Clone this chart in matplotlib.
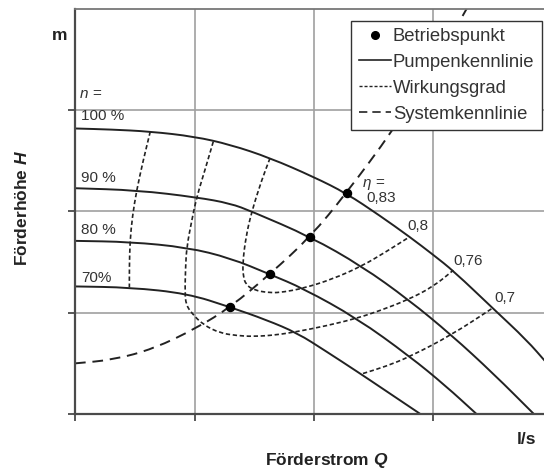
import matplotlib
matplotlib.use('Agg')
import matplotlib.pyplot as plt
from matplotlib.lines import Line2D
from matplotlib.path import Path
from matplotlib.patches import PathPatch

INK, SPINE, GRID = '#222222', '#4a4a4a', '#a0a0a0'
plt.rcParams.update({
    'font.family': ['Liberation Sans', 'DejaVu Sans'],
    'mathtext.fontset': 'custom',
    'mathtext.it': 'Liberation Sans:italic:bold',
    'text.color': INK,
})

# Pumpenkennlinien bei n = 100/90/80/70 %  (Q, H in Rastereinheiten)
n100_q = [0, 0.3, 0.63, 1.0, 1.3, 1.63, 2.0, 2.27, 2.55, 2.8, 3.0, 3.17, 3.5, 3.78, 3.95]
n100_h = [2.82, 2.81, 2.79, 2.74, 2.66, 2.53, 2.34, 2.18, 1.96, 1.75, 1.57, 1.41, 1.04, 0.73, 0.50]
n90_q = [0, 0.52, 1.02, 1.3, 1.48, 1.97, 2.4, 2.79, 3.15, 3.5, 3.84]
n90_h = [2.23, 2.21, 2.14, 2.08, 2.0, 1.75, 1.46, 1.13, 0.78, 0.40, 0.0]
n80_q = [0, 0.46, 0.94, 1.3, 1.63, 1.91, 2.36, 2.8, 3.1, 3.36]
n80_h = [1.71, 1.70, 1.645, 1.54, 1.38, 1.24, 0.945, 0.57, 0.28, 0.0]
n70_q = [0, 0.46, 0.94, 1.3, 1.6, 1.86, 2.1, 2.36, 2.6, 2.89]
n70_h = [1.26, 1.25, 1.19, 1.055, 0.93, 0.80, 0.62, 0.42, 0.23, 0.0]
pump_labels = ['100 %', '90 %', '80 %', '70%']

# Wirkungsgrad-Isolinien
eta70_left_q = [0.63, 0.57, 0.516, 0.48, 0.46, 0.455, 0.455]
eta70_left_h = [2.79, 2.5, 2.21, 1.95, 1.70, 1.45, 1.25]
eta70_right_q = [2.41, 2.6, 2.8, 3.15, 3.5]
eta70_right_h = [0.40, 0.47, 0.565, 0.78, 1.05]
eta76_q = [1.157, 1.09, 1.018, 0.975, 0.935, 0.925, 0.92, 0.93, 0.976, 1.074, 1.213,
           1.35, 1.49, 1.68, 1.855, 2.1, 2.357, 2.55, 2.79, 3.0, 3.166]
eta76_h = [2.69, 2.42, 2.14, 1.9, 1.647, 1.45, 1.19, 1.08, 0.995, 0.88, 0.80,
           0.775, 0.765, 0.78, 0.813, 0.87, 0.945, 1.02, 1.13, 1.26, 1.42]
eta80_q = [1.632, 1.562, 1.479, 1.43, 1.403, 1.408, 1.43, 1.492, 1.632, 1.75, 1.911,
           2.15, 2.399, 2.6, 2.803]
eta80_h = [2.527, 2.31, 2.0, 1.75, 1.49, 1.357, 1.28, 1.225, 1.195, 1.205, 1.242,
           1.33, 1.46, 1.6, 1.752]
eta_labels = ['0,83', '0,8', '0,76', '0,7']

# Systemkennlinie und Betriebspunkte
sys_q = [0, 0.32, 0.66, 1.02, 1.30, 1.63, 1.97, 2.27, 2.66, 3.0, 3.3]
sys_h = [0.50, 0.535, 0.645, 0.85, 1.055, 1.38, 1.75, 2.18, 2.80, 3.42, 4.05]
op_q = [1.297, 1.632, 1.967, 2.274]
op_h = [1.055, 1.383, 1.752, 2.181]


def smooth_path(q, h):
    """quadratic bezier path through the midpoints, using the points as control points"""
    pts = list(zip(q, h))
    verts, codes = [pts[0]], [Path.MOVETO]
    for i in range(1, len(pts) - 1):
        mid = ((pts[i][0] + pts[i + 1][0]) / 2, (pts[i][1] + pts[i + 1][1]) / 2)
        if i == 1:
            verts.append(((pts[0][0] + pts[1][0]) / 2, (pts[0][1] + pts[1][1]) / 2))
            codes.append(Path.LINETO)
        verts += [pts[i], mid]
        codes += [Path.CURVE3, Path.CURVE3]
    verts.append(pts[-1])
    codes.append(Path.LINETO)
    return Path(verts, codes)


def draw_curve(ax, q, h, **kw):
    ax.add_patch(PathPatch(smooth_path(q, h), fill=False, capstyle='butt', **kw))


W, H = 544, 468
fig = plt.figure(figsize=(W / 100, H / 100), dpi=100)
ax = fig.add_axes([75 / W, 54 / H, (W - 75) / W, 405 / H])
ax.set_xlim(0, (W - 75) / 119.5)
ax.set_ylim(0, 4)
ax.set_xticks([0, 1, 2, 3])
ax.set_yticks([0, 1, 2, 3])
ax.set_xticklabels([])
ax.set_yticklabels([])
ax.grid(True, color=GRID, linewidth=1.2)
ax.set_axisbelow(True)
ax.tick_params(length=5, width=1.3, color=SPINE, direction='out')
for side in ('left', 'bottom'):
    ax.spines[side].set_color(SPINE)
    ax.spines[side].set_linewidth(1.6)
ax.spines['top'].set_color('#777777')
ax.spines['top'].set_linewidth(1.3)
ax.spines['right'].set_visible(False)

for q, h in [(n100_q, n100_h), (n90_q, n90_h), (n80_q, n80_h), (n70_q, n70_h)]:
    draw_curve(ax, q, h, edgecolor=INK, linewidth=1.4)

for q, h in [(eta70_left_q, eta70_left_h), (eta70_right_q, eta70_right_h),
             (eta76_q, eta76_h), (eta80_q, eta80_h)]:
    draw_curve(ax, q, h, edgecolor=INK, linewidth=1.2, linestyle=(0, (2.6, 1.6)))

draw_curve(ax, sys_q, sys_h, edgecolor=INK, linewidth=1.4, linestyle=(0, (5.5, 3.5)))
ax.plot(op_q, op_h, 'o', color='black', markersize=5.8, zorder=5)

# Drehzahl-Beschriftung
ax.text(0.042, 3.12, 'n =', fontsize=11, style='italic', color='#333333')
for lbl, y in zip(pump_labels, [2.905, 2.29, 1.78, 1.307]):
    ax.text(0.05, y, lbl, fontsize=11, color='#333333')

# Wirkungsgrad-Beschriftung
ax.text(2.41, 2.243, 'η =', fontsize=11, style='italic', color='#333333')
for lbl, (x, y) in zip(eta_labels, [(2.435, 2.095), (2.778, 1.818), (3.163, 1.472), (3.506, 1.107)]):
    ax.text(x, y, lbl, fontsize=11, color='#333333')

handles = [
    Line2D([], [], marker='o', color='black', linestyle='none', markersize=5.5),
    Line2D([], [], color=INK, linewidth=1.2),
    Line2D([], [], color=INK, linewidth=1.0, linestyle=(0, (2.2, 1.4))),
    Line2D([], [], color=INK, linewidth=1.2, linestyle=(0, (5, 3))),
]
leg = fig.legend(handles, ['Betriebspunkt', 'Pumpenkennlinie', 'Wirkungsgrad', 'Systemkennlinie'],
                 loc='upper right', bbox_to_anchor=(541.7 / W, 1 - 20.7 / H),
                 fontsize=13.3, frameon=True, fancybox=False, borderpad=0.4,
                 handlelength=1.75, handletextpad=0.1, labelspacing=0.48,
                 borderaxespad=0)
leg.get_frame().set_edgecolor('#333333')
leg.get_frame().set_linewidth(1.0)
leg.get_frame().set_facecolor('white')
leg.get_frame().set_alpha(1)
for t in leg.get_texts():
    t.set_color('#333333')

# Achsenbeschriftungen
lab_kw = dict(fontsize=12.5, fontweight='bold', color=INK, ha='center', va='center')
fig.text(60 / W, 1 - 36 / H, 'm', **lab_kw)
fig.text(527 / W, 1 - 439 / H, 'l/s', **lab_kw)
fig.text(326.7 / W, 1 - 460 / H, 'Förderstrom $Q$', **lab_kw)
fig.text(22.5 / W, 1 - 207.5 / H, 'Förderhöhe $H$', rotation=90, **lab_kw)

fig.savefig('out.png', dpi=100, facecolor='white')
